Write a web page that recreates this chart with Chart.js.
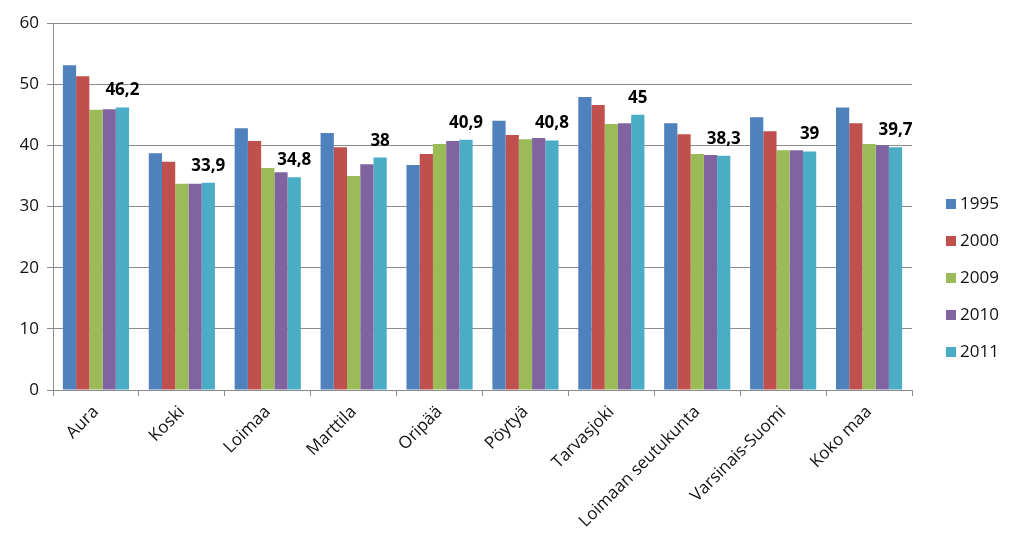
<!DOCTYPE html>
<html>
<head>
<meta charset="utf-8">
<script src="https://cdn.jsdelivr.net/npm/chart.js@4/dist/chart.umd.min.js"></script>
<style>
html,body{margin:0;padding:0;background:#fff;}
#wrap{width:1024px;height:555px;position:relative;}
</style>
</head>
<body>
<div id="wrap"><canvas id="c" width="1024" height="555"></canvas></div>
<script>
const categories = ["Aura","Koski","Loimaa","Marttila","Oripää","Pöytyä","Tarvasjoki","Loimaan seutukunta","Varsinais-Suomi","Koko maa"];
const seriesNames = ["1995","2000","2009","2010","2011"];
const v1995 = [53.1,38.7,42.8,42.0,36.8,44.0,47.9,43.6,44.6,46.2];
const v2000 = [51.3,37.3,40.7,39.7,38.6,41.7,46.6,41.8,42.3,43.6];
const v2009 = [45.8,33.7,36.3,35.0,40.2,41.0,43.5,38.6,39.2,40.2];
const v2010 = [45.9,33.7,35.6,36.9,40.7,41.2,43.6,38.4,39.2,40.0];
const v2011 = [46.2,33.9,34.8,38.0,40.9,40.8,45.0,38.3,39.0,39.7];
const colors = ["#4F81BD","#C0504D","#9BBB59","#8064A2","#4BACC6"];
const yTicks = [0,10,20,30,40,50,60];

const allValues = [v1995,v2000,v2009,v2010,v2011];
const FONT = "'Open Sans', 'Noto Sans', sans-serif";

const labelPlugin = {
  id: 'lastLabels',
  afterDatasetsDraw(chart) {
    const ctx = chart.ctx;
    const idx = chart.data.datasets.length - 1;
    const meta = chart.getDatasetMeta(idx);
    ctx.save();
    ctx.font = "bold 17px " + FONT;
    ctx.fillStyle = "#000";
    ctx.textAlign = "center";
    ctx.textBaseline = "alphabetic";
    meta.data.forEach((bar, i) => {
      const val = chart.data.datasets[idx].data[i];
      const txt = String(val).replace('.', ',');
      ctx.fillText(txt, bar.x, bar.y - 12);
    });
    ctx.restore();
  }
};

const legendPlugin = {
  id: 'customLegend',
  afterDraw(chart) {
    const ctx = chart.ctx;
    ctx.save();
    ctx.font = "17px " + FONT;
    ctx.textBaseline = "middle";
    ctx.textAlign = "left";
    chart.data.datasets.forEach((ds, i) => {
      const y = 204 + i * 37;
      ctx.fillStyle = ds.backgroundColor;
      ctx.fillRect(946, y - 5, 10, 10);
      ctx.fillStyle = "#111";
      ctx.fillText(ds.label, 960, y);
    });
    ctx.restore();
  }
};

new Chart(document.getElementById('c'), {
  type: 'bar',
  data: {
    labels: categories,
    datasets: seriesNames.map((n, i) => ({
      label: n,
      data: allValues[i],
      backgroundColor: colors[i],
      borderWidth: 0,
      categoryPercentage: 0.77,
      barPercentage: 1.0
    }))
  },
  options: {
    responsive: false,
    animation: false,
    layout: { padding: { top: 23, right: 112, left: 0, bottom: 0 } },
    plugins: { legend: { display: false }, tooltip: { enabled: false } },
    scales: {
      x: {
        offset: true,
        grid: { offset: true, drawOnChartArea: false, drawTicks: true, tickLength: 6, color: '#8c8c8c' },
        border: { color: '#8c8c8c', width: 1 },
        ticks: { color: '#111', font: { size: 17, family: FONT }, minRotation: 45, maxRotation: 45, autoSkip: false, padding: 6 },
        afterFit(scale) { scale.height = 165; }
      },
      y: {
        min: 0, max: 60,
        afterBuildTicks(scale) { scale.ticks = yTicks.map(v => ({ value: v })); },
        grid: { color: '#8c8c8c', tickLength: 6, drawTicks: true },
        border: { color: '#8c8c8c', width: 1 },
        ticks: { color: '#111', font: { size: 17, family: FONT }, padding: 8 },
        afterFit(scale) { scale.width = 53; }
      }
    }
  },
  plugins: [labelPlugin, legendPlugin]
});
</script>
</body>
</html>
